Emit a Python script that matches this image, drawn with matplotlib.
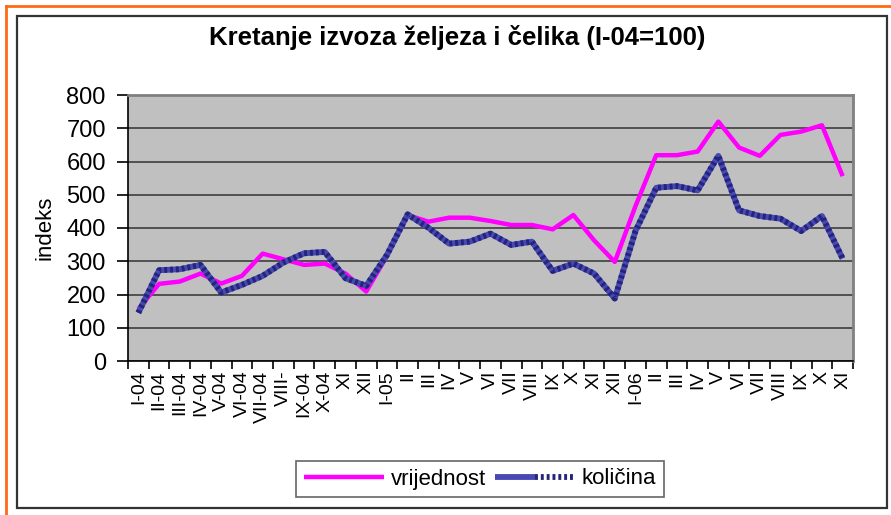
import numpy as np
import matplotlib
matplotlib.use("Agg")
import matplotlib.pyplot as plt
from matplotlib.lines import Line2D
from matplotlib.patches import Rectangle
from matplotlib.legend_handler import HandlerTuple

plt.rcParams["font.family"] = ["Liberation Sans", "DejaVu Sans"]

# months I-04 .. XI-06
months = ["I-04", "II-04", "III-04", "IV-04", "V-04", "VI-04", "VII-04", "VIII-",
          "IX-04", "X-04", "XI", "XII",
          "I-05", "II", "III", "IV", "V", "VI", "VII", "VIII", "IX", "X", "XI", "XII",
          "I-06", "II", "III", "IV", "V", "VI", "VII", "VIII", "IX", "X", "XI"]
vrijednost = [156, 232, 239, 263, 233, 256, 323, 306, 289, 293, 263, 209,
              316, 439, 419, 431, 431, 421, 409, 409, 396, 439, 363, 298,
              466, 619, 619, 630, 720, 642, 617, 680, 690, 709, 556]
kolicina = [145, 273, 276, 289, 206, 229, 256, 296, 324, 328, 249, 226,
            319, 441, 401, 353, 359, 383, 349, 359, 271, 293, 263, 188,
            391, 521, 526, 513, 617, 453, 436, 428, 391, 436, 308]

fig = plt.figure(figsize=(8.91, 5.15), dpi=100)
ax = fig.add_axes([128 / 891, 1 - 361 / 515, 725 / 891, 266 / 515])
ax.set_facecolor("#c0c0c0")

x = np.arange(len(months))
pink, = ax.plot(x, vrijednost, color="#ff00ff", lw=3.2, solid_capstyle="butt", zorder=3)
blue1, = ax.plot(x, kolicina, color="#4848b4", lw=4.2, solid_capstyle="butt", zorder=4)
blue2, = ax.plot(x, kolicina, color="#24247a", lw=4.2, dashes=(0.5, 0.5),
                 dash_capstyle="butt", zorder=5)

ax.set_ylim(0, 800)
ax.set_xlim(-0.5, len(months) - 0.5)
ax.set_yticks(range(0, 801, 100))
ax.yaxis.grid(True, color="#505050", lw=1.4)
ax.set_axisbelow(True)
ax.tick_params(axis="y", labelsize=17, length=8, width=1.2, pad=8)

ax.set_xticks(np.arange(-0.5, len(months)), minor=False)
ax.set_xticklabels([])
ax.tick_params(axis="x", which="major", length=6, width=1.2)
ax.set_xticks(x, minor=True)
ax.set_xticklabels(months, minor=True, rotation=90, fontsize=14)
ax.tick_params(axis="x", which="minor", length=0, pad=7)

for s in ["left", "bottom"]:
    ax.spines[s].set_color("black")
    ax.spines[s].set_linewidth(1.2)
for s in ["top", "right"]:
    ax.spines[s].set_color("#808080")
    ax.spines[s].set_linewidth(2)

ax.set_ylabel("indeks", fontsize=16, labelpad=8)
fig.text(457 / 891, 1 - 38 / 515, "Kretanje izvoza željeza i čelika (I-04=100)",
         ha="center", va="center", fontsize=18.5, fontweight="bold")

leg = fig.legend([pink, (blue1, blue2)], ["vrijednost", "količina"],
                 handler_map={tuple: HandlerTuple(ndivide=None, pad=0)},
                 loc="center", bbox_to_anchor=(480 / 891, 1 - 479 / 515), ncol=2,
                 fontsize=16, frameon=True, fancybox=False, edgecolor="#404040",
                 handlelength=3.6, handletextpad=0.3, columnspacing=0.4,
                 borderpad=0.35)
leg.get_frame().set_linewidth(1.2)

# chart frame and orange outer border
fig.patches.append(Rectangle((17 / 891, 1 - 508 / 515), 870 / 891, 492 / 515,
                             transform=fig.transFigure, fill=False,
                             edgecolor="#333333", lw=1.6))
fig.lines.append(Line2D([6 / 891, 1], [1 - 6 / 515, 1 - 6 / 515],
                        transform=fig.transFigure, color="#ff6a10", lw=2))
fig.lines.append(Line2D([6 / 891, 6 / 891], [0, 1 - 6 / 515],
                        transform=fig.transFigure, color="#ff6a10", lw=2))

fig.savefig("out.png", dpi=100)
